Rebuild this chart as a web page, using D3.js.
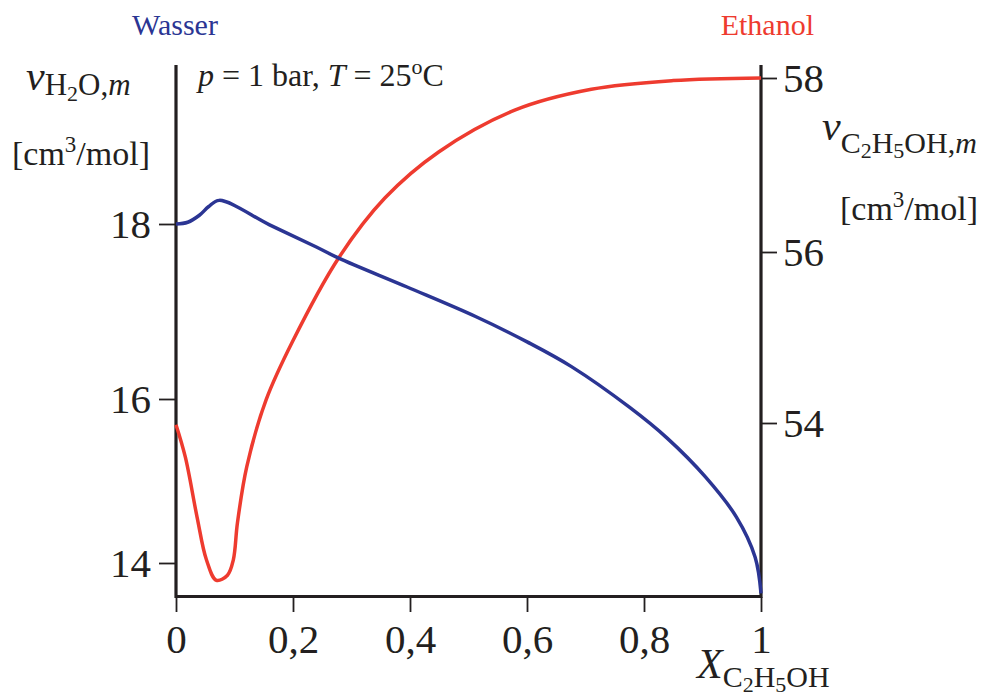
<!DOCTYPE html>
<meta charset="utf-8">

<!-- Load d3.js -->
<script src="https://d3js.org/d3.v7.min.js"></script>

<style>
  body { margin: 0; background: #fff; }
  text { font-family: "Liberation Serif", "Times New Roman", serif; fill: #231f20; }
</style>

<div id="my_dataviz"></div>

<script>

    // mole fraction of ethanol and partial molar volumes
    var xWater = [0, 0.02, 0.04, 0.056, 0.074, 0.16, 0.239, 0.278, 0.395, 0.513, 0.601, 0.676, 0.775, 0.84, 0.905, 0.958, 0.99, 1.0];
    var vWater = [18.0, 18.02, 18.1, 18.2, 18.27, 17.99, 17.74, 17.61, 17.28, 16.94, 16.65, 16.37, 15.9, 15.52, 15.05, 14.56, 14.07, 13.63];

    var xEthanol = [0, 0.016, 0.036, 0.052, 0.069, 0.088, 0.098, 0.105, 0.121, 0.154, 0.199, 0.278, 0.357, 0.449, 0.579, 0.71, 0.85, 1.0];
    var vEthanol = [53.98, 53.6, 52.9, 52.4, 52.16, 52.22, 52.4, 52.83, 53.49, 54.27, 54.95, 55.93, 56.62, 57.15, 57.63, 57.87, 57.97, 58.0];

    var xTicks = [0, 0.2, 0.4, 0.6, 0.8, 1];
    var leftTicks = [14, 16, 18];
    var rightTicks = [54, 56, 58];

    var blue = "#2b3593", red = "#ee3b2f";

    var svg = d3.select("#my_dataviz")
      .append("svg")
        .attr("width", 989)
        .attr("height", 696);

    // scales (the tick spacing in the figure is slightly uneven, hence 3-point domains)
    var x = d3.scaleLinear().domain([0, 1]).range([176, 761]);
    var yL = d3.scaleLinear().domain([14, 16, 18]).range([563, 399, 224]);
    var yR = d3.scaleLinear().domain([54, 56, 58]).range([423, 252, 78]);

    // X axis
    svg.append("g")
      .attr("transform", "translate(0,597)")
      .call(d3.axisBottom(x).tickValues(xTicks).tickSize(15).tickSizeOuter(0).tickPadding(12)
        .tickFormat(function (d) { return (d === 0 || d === 1) ? String(d) : d3.format(".1f")(d).replace(".", ","); }))
      .call(function (g) { g.select(".domain").remove(); });

    // left Y axis
    svg.append("g")
      .attr("transform", "translate(176,0)")
      .call(d3.axisLeft(yL).tickValues(leftTicks).tickFormat(d3.format("d")).tickSize(17).tickSizeOuter(0).tickPadding(8))
      .call(function (g) { g.select(".domain").remove(); });

    // right Y axis
    svg.append("g")
      .attr("transform", "translate(761,0)")
      .call(d3.axisRight(yR).tickValues(rightTicks).tickFormat(d3.format("d")).tickSize(16).tickSizeOuter(0).tickPadding(6))
      .call(function (g) { g.select(".domain").remove(); });

    svg.selectAll(".tick line").attr("stroke", "#231f20").attr("stroke-width", 1.8);
    svg.selectAll(".tick text")
      .style("font-family", "Liberation Serif")
      .style("font-size", "41px")
      .attr("fill", "#231f20");

    // frame lines
    svg.append("line").attr("x1", 176).attr("x2", 176).attr("y1", 65).attr("y2", 598)
      .attr("stroke", "#231f20").attr("stroke-width", 3.2);
    svg.append("line").attr("x1", 761).attr("x2", 761).attr("y1", 65).attr("y2", 598)
      .attr("stroke", "#231f20").attr("stroke-width", 3.2);
    svg.append("line").attr("x1", 175).attr("x2", 762).attr("y1", 596.5).attr("y2", 596.5)
      .attr("stroke", "#231f20").attr("stroke-width", 3.2);

    // curves
    var lineWater = d3.line()
      .x(function (d) { return x(d[0]); })
      .y(function (d) { return yL(d[1]); })
      .curve(d3.curveCatmullRom.alpha(0.5));
    var lineEthanol = d3.line()
      .x(function (d) { return x(d[0]); })
      .y(function (d) { return yR(d[1]); })
      .curve(d3.curveCatmullRom.alpha(0.5));

    svg.append("path")
      .datum(d3.zip(xEthanol, vEthanol))
      .attr("d", lineEthanol)
      .attr("fill", "none")
      .attr("stroke", red)
      .attr("stroke-width", 3.5);

    svg.append("path")
      .datum(d3.zip(xWater, vWater))
      .attr("d", lineWater)
      .attr("fill", "none")
      .attr("stroke", blue)
      .attr("stroke-width", 3.5);

    // series names
    svg.append("text").attr("x", 132).attr("y", 35)
      .style("font-size", "30px").style("fill", blue).text("Wasser");
    svg.append("text").attr("x", 814).attr("y", 35).attr("text-anchor", "end")
      .style("font-size", "30px").style("fill", red).text("Ethanol");

    // conditions
    var cond = svg.append("text").attr("x", 198).attr("y", 86).style("font-size", "32px");
    cond.append("tspan").style("font-style", "italic").text("p");
    cond.append("tspan").text(" = 1 bar, ");
    cond.append("tspan").style("font-style", "italic").text("T");
    cond.append("tspan").text(" = 25");
    cond.append("tspan").attr("dy", -12).style("font-size", "22px").text("o");
    cond.append("tspan").attr("dy", 12).text("C");

    // left axis label
    var lt = svg.append("text").attr("x", 26).attr("y", 90).style("font-size", "42px");
    lt.append("tspan").style("font-style", "italic").text("v");
    lt.append("tspan").attr("dy", 5).style("font-size", "31px").text("H");
    lt.append("tspan").attr("dy", 6).style("font-size", "22px").text("2");
    lt.append("tspan").attr("dy", -6).style("font-size", "31px").text("O,");
    lt.append("tspan").style("font-size", "31px").style("font-style", "italic").text("m");

    var lu = svg.append("text").attr("x", 12).attr("y", 165).style("font-size", "34px");
    lu.append("tspan").text("[cm");
    lu.append("tspan").attr("dy", -13).style("font-size", "23px").text("3");
    lu.append("tspan").attr("dy", 13).text("/mol]");

    // right axis label
    var rt = svg.append("text").attr("x", 822).attr("y", 140).style("font-size", "42px");
    rt.append("tspan").style("font-style", "italic").text("v");
    rt.append("tspan").attr("dy", 13).style("font-size", "30px").text("C");
    rt.append("tspan").attr("dy", 5).style("font-size", "22px").text("2");
    rt.append("tspan").attr("dy", -5).style("font-size", "30px").text("H");
    rt.append("tspan").attr("dy", 5).style("font-size", "22px").text("5");
    rt.append("tspan").attr("dy", -5).style("font-size", "30px").text("OH,");
    rt.append("tspan").style("font-size", "30px").style("font-style", "italic").text("m");

    var ru = svg.append("text").attr("x", 840).attr("y", 220).style("font-size", "34px");
    ru.append("tspan").text("[cm");
    ru.append("tspan").attr("dy", -13).style("font-size", "23px").text("3");
    ru.append("tspan").attr("dy", 13).text("/mol]");

    // x axis label
    var xt = svg.append("text").attr("x", 697).attr("y", 678).style("font-size", "42px");
    xt.append("tspan").style("font-style", "italic").text("X");
    xt.append("tspan").attr("dy", 9).style("font-size", "30px").text("C");
    xt.append("tspan").attr("dy", 5).style("font-size", "22px").text("2");
    xt.append("tspan").attr("dy", -5).style("font-size", "30px").text("H");
    xt.append("tspan").attr("dy", 5).style("font-size", "22px").text("5");
    xt.append("tspan").attr("dy", -5).style("font-size", "30px").text("OH");

</script>
